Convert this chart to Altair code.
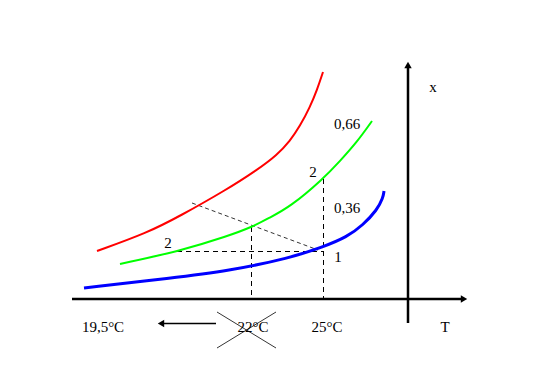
import altair as alt
import pandas as pd

# Curves (schematic, coordinates, in pixel units)
red_x = [97, 147, 180, 226, 257, 277, 290, 300, 310, 317, 323]
red_y = [251, 233, 216, 190, 170, 155, 141, 126, 107, 90, 72]
green_x = [120, 180, 228, 252, 269, 290, 323, 340, 357, 372]
green_y = [264, 251, 236, 227, 218, 207, 179, 161, 142, 121]
blue_x = [84, 172, 228, 290, 323, 347, 363, 377, 383, 384]
blue_y = [288, 278, 271, 258, 247, 237, 225, 210, 198, 191]

# Dashed construction lines
dash_x1 = [177, 323.5, 251.5]
dash_y1 = [251.5, 179, 227]
dash_x2 = [323.5, 323.5, 251.5]
dash_y2 = [251.5, 298, 298]
diag_x1 = [192]
diag_y1 = [203]
diag_x2 = [318]
diag_y2 = [250]

# Axes and arrows
axis_x1 = [72, 408]
axis_y1 = [299, 323]
axis_x2 = [463, 408]
axis_y2 = [299, 66]
arrow_x = [163]
arrow_y = [323.5]
arrow_x2 = [216]
cross_x1 = [217, 217]
cross_y1 = [312, 348]
cross_x2 = [276, 276]
cross_y2 = [348, 312]
head_x = [464, 408, 161]
head_y = [299, 65, 323.5]
head_shape = ["triangle-right", "triangle-up", "triangle-left"]

# Labels
label_text = ["x", "0,66", "2", "0,36", "2", "1", "19,5°C", "22°C", "25°C", "T"]
label_x = [433, 347, 313, 347, 168, 338, 103, 253, 327, 445]
label_y = [87, 124, 172, 208, 243, 257, 327, 327, 327, 327]

XS = alt.Scale(domain=[8, 532])
YS = alt.Scale(domain=[8, 376], reverse=True)


def X(f="x"):
    return alt.X(f"{f}:Q", scale=XS, axis=None)


def Y(f="y"):
    return alt.Y(f"{f}:Q", scale=YS, axis=None)


def curve(xs, ys, color, w):
    df = pd.DataFrame({"x": xs, "y": ys})
    return alt.Chart(df).mark_line(color=color, strokeWidth=w, interpolate="basis").encode(x=X(), y=Y())


def segs(x1, y1, x2, y2, **kw):
    df = pd.DataFrame({"x": x1, "y": y1, "x2": x2, "y2": y2})
    return alt.Chart(df).mark_rule(**kw).encode(x=X(), y=Y(), x2="x2:Q", y2="y2:Q")


red = curve(red_x, red_y, "#ff0000", 2)
green = curve(green_x, green_y, "#00ff00", 2)
blue = curve(blue_x, blue_y, "#0000ff", 3)

dashed = segs(dash_x1, dash_y1, dash_x2, dash_y2, color="black", strokeWidth=1, strokeDash=[5, 4])
diag = segs(diag_x1, diag_y1, diag_x2, diag_y2, color="black", strokeWidth=0.8, strokeDash=[4, 3])
axes = segs(axis_x1, axis_y1, axis_x2, axis_y2, color="black", strokeWidth=2.5)
larrow = segs(arrow_x, arrow_y, arrow_x2, arrow_y, color="black", strokeWidth=1.5)
cross = segs(cross_x1, cross_y1, cross_x2, cross_y2, color="black", strokeWidth=0.8)

heads = alt.Chart(pd.DataFrame({"x": head_x, "y": head_y, "s": head_shape})).mark_point(
    filled=True, color="black", size=55, opacity=1
).encode(x=X(), y=Y(), shape=alt.Shape("s:N", scale=None, legend=None))

labels = alt.Chart(pd.DataFrame({"x": label_x, "y": label_y, "t": label_text})).mark_text(
    font="Liberation Serif", fontSize=15, color="black", align="center", baseline="middle"
).encode(x=X(), y=Y(), text="t:N")

chart = alt.layer(
    dashed, diag, red, green, blue, axes, larrow, cross, heads, labels
).properties(
    width=524, height=368, padding=0, autosize=alt.AutoSizeParams(type="none")
).configure(background="white").configure_view(stroke=None, strokeWidth=0)

chart.save("out.html", embed_options={"renderer": "svg", "actions": False})
